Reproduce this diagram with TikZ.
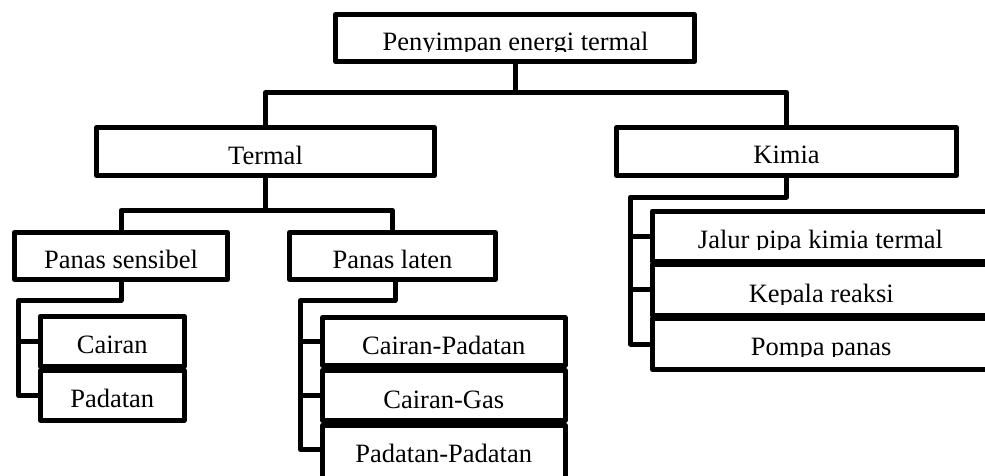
\documentclass[tikz,border=0pt]{standalone}
\usepackage{fontspec}
\setmainfont{Liberation Serif}
\begin{document}
\begin{tikzpicture}[x=1pt,y=-1pt,
  box/.style={draw=black, line width=5pt, line join=round, inner sep=0pt, outer sep=0pt},
  lbl/.style={anchor=base, inner sep=0pt, outer sep=0pt, font=\fontsize{26.5}{30}\selectfont},
  conn/.style={draw=black, line width=5pt, line join=round}]
\useasboundingbox (0,0) rectangle (985,475);
\clip (0,0) rectangle (985,475);
% boxes
\node[box, minimum width=359pt, minimum height=47pt] (top) at (515,38) {};
\node[box, minimum width=338pt, minimum height=48pt] (termal) at (265.5,151.5) {};
\node[box, minimum width=340pt, minimum height=48pt] (kimia) at (786.5,151.5) {};
\node[box, minimum width=213pt, minimum height=47pt] (ps) at (121,256) {};
\node[box, minimum width=206pt, minimum height=47pt] (pl) at (392.5,256) {};
\node[box, minimum width=143.5pt, minimum height=50.5pt] (cair) at (112.25,341.25) {};
\node[box, minimum width=143.5pt, minimum height=50pt] (pad) at (112.25,395.5) {};
\node[box, minimum width=242.5pt, minimum height=48pt] (cp) at (443.75,341.5) {};
\node[box, minimum width=242.5pt, minimum height=50.5pt] (cg) at (443.75,395.25) {};
\node[box, minimum width=242.5pt, minimum height=55pt] (pp) at (443.75,452.5) {};
\node[box, minimum width=337.5pt, minimum height=50pt] (jalur) at (821.25,236) {};
\node[box, minimum width=337.5pt, minimum height=51.5pt] (kep) at (821.25,289.75) {};
\node[box, minimum width=337.5pt, minimum height=51pt] (pompa) at (821.25,344) {};
% junctions
\coordinate (j0) at (515,92.5);
\coordinate (j1) at (265.5,210.5);
\coordinate (jl1) at (18.5,300.5);
\coordinate (jl2) at (300.5,300.5);
\coordinate (jk) at (630.5,197);
% connectors
\draw[conn] (top.south) -- (j0);
\draw[conn] (termal.north) |- (j0) -| (kimia.north);
\draw[conn] (termal.south) -- (j1);
\draw[conn] (ps.north) |- (j1) -| (pl.north);
\draw[conn] (ps.south) |- (jl1) |- (pad.west);
\draw[conn] (jl1 |- cair.west) -- (cair.west);
\draw[conn] ([xshift=2.5pt]pl.south) |- (jl2) |- ([yshift=3pt]pp.west);
\draw[conn] (jl2 |- cp.west) -- (cp.west);
\draw[conn] (jl2 |- cg.west) -- (cg.west);
\draw[conn] (kimia.south) |- (jk) |- (pompa.west);
\draw[conn] (jk |- jalur.west) -- (jalur.west);
\draw[conn] (jk |- kep.west) -- (kep.west);
% labels
\begin{scope}
  \clip (337,16) rectangle (693,51.8);
  \node[lbl] (ttop) at (515.5,50) {Penyimpan energi termal};
\end{scope}
\node[lbl] (ttermal) at (265.5,164) {Termal};
\node[lbl] (tkimia) at (786.5,163.5) {Kimia};
\node[lbl] (tps) at (121,268.3) {Panas sensibel};
\node[lbl] (tpl) at (392.5,268.3) {Panas laten};
\node[lbl] (tcair) at (112.25,353.3) {Cairan};
\node[lbl] (tpad) at (112.25,407.7) {Padatan};
\node[lbl] (tcp) at (443.75,354) {Cairan-Padatan};
\node[lbl] (tcg) at (443.75,408.3) {Cairan-Gas};
\node[lbl] (tpp) at (443.75,462.7) {Padatan-Padatan};
\begin{scope}
  \clip (655,213) rectangle (985,249.8);
  \node[lbl] (tjalur) at (820.5,248) {Jalur pipa kimia termal};
\end{scope}
\begin{scope}
  \clip (655,266) rectangle (985,304.4);
  \node[lbl] (tkep) at (821.25,302.7) {Kepala reaksi};
\end{scope}
\begin{scope}
  \clip (655,321) rectangle (985,356.7);
  \node[lbl] (tpompa) at (821.25,355) {Pompa panas};
\end{scope}
\end{tikzpicture}
\end{document}
